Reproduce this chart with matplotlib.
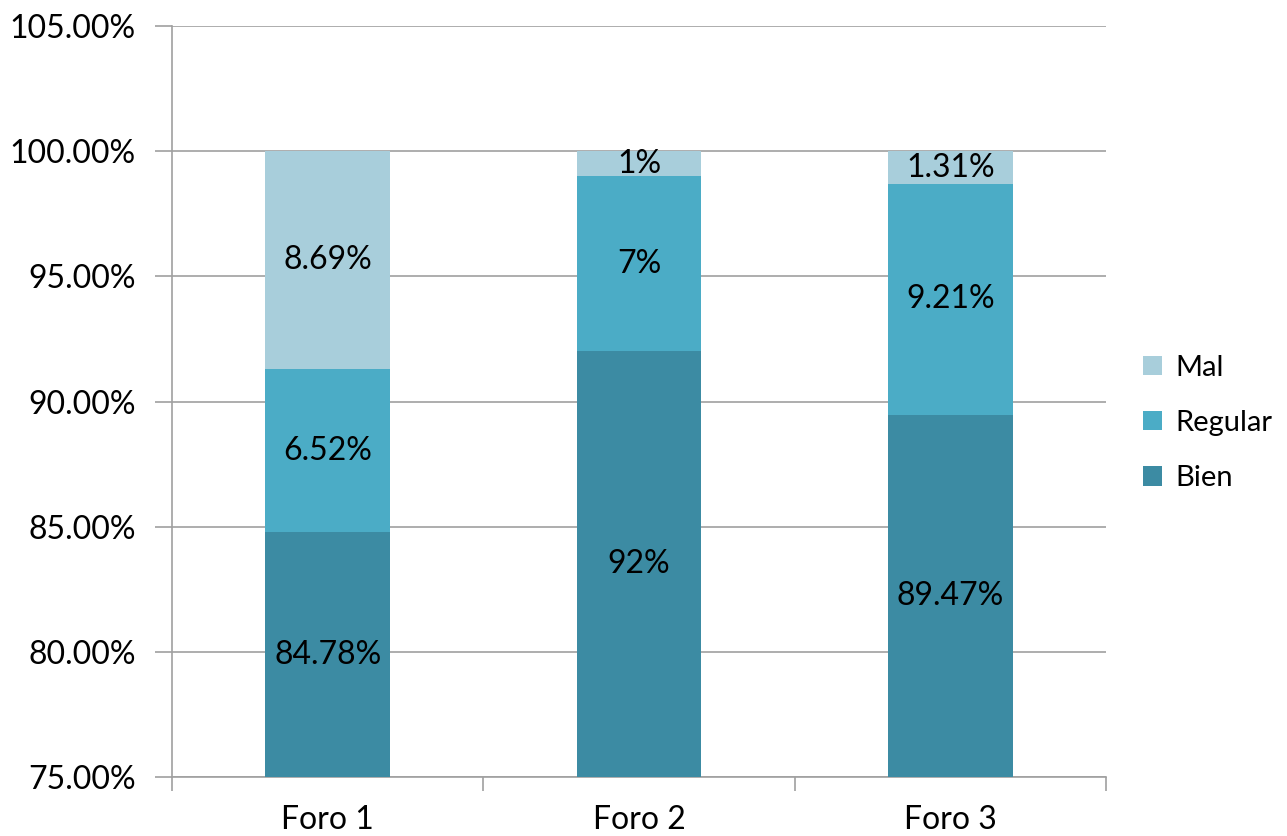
import matplotlib
matplotlib.use("Agg")
import matplotlib.pyplot as plt
import numpy as np

categories = ["Foro 1", "Foro 2", "Foro 3"]
bien = [84.78, 92.0, 89.47]
regular = [6.52, 7.0, 9.21]
mal = [8.69, 1.0, 1.31]
bien_labels = ["84.78%", "92%", "89.47%"]
regular_labels = ["6.52%", "7%", "9.21%"]
mal_labels = ["8.69%", "1%", "1.31%"]
yticks = [75, 80, 85, 90, 95, 100, 105]

plt.rcParams['font.family'] = ['Lato', 'DejaVu Sans']

fig = plt.figure(figsize=(12.87, 8.36), dpi=100)
ax = fig.add_axes([172/1287, 1-777/836, (1106-172)/1287, (777-26)/836])

c_bien = "#3C8BA3"
c_reg = "#4BACC6"
c_mal = "#A8CEDB"
grid_c = "#A0A0A0"

x = np.arange(len(categories))
w = 0.4
ymin, ymax = 75, 105

b1 = ax.bar(x, bien, w, color=c_bien, label="Bien", zorder=3)
bot2 = np.array(bien)
b2 = ax.bar(x, regular, w, bottom=bot2, color=c_reg, label="Regular", zorder=3)
bot3 = bot2 + np.array(regular)
b3 = ax.bar(x, mal, w, bottom=bot3, color=c_mal, label="Mal", zorder=3)

fs = 23
for i in range(len(categories)):
    yb = (ymin + bien[i]) / 2
    ax.text(x[i], yb, bien_labels[i], ha='center', va='center', fontsize=fs, color='black', zorder=4)
    yr = bot2[i] + regular[i] / 2
    ax.text(x[i], yr, regular_labels[i], ha='center', va='center', fontsize=fs, color='black', zorder=4)
    ym = bot3[i] + mal[i] / 2
    ax.text(x[i], ym, mal_labels[i], ha='center', va='center', fontsize=fs, color='black', zorder=4)

ax.set_xlim(-0.5, 2.5)
ax.set_ylim(ymin, ymax)
ax.set_yticks(yticks)
ax.set_yticklabels([f"{v:.2f}%" for v in yticks], fontsize=fs)
ax.set_xticks(x)
ax.set_xticklabels(categories, fontsize=fs)
ax.tick_params(axis='x', length=0, pad=20)
ax.set_xticks([-0.5, 0.5, 1.5, 2.5], minor=True)
ax.tick_params(axis='x', which='minor', length=10, color=grid_c, width=1.2)
ax.tick_params(axis='y', length=12, color=grid_c, width=1.2, pad=14)

ax.yaxis.grid(True, color=grid_c, linewidth=1.2, zorder=0)
ax.set_axisbelow(True)
for s in ['top', 'right']:
    ax.spines[s].set_visible(False)
for s in ['left', 'bottom']:
    ax.spines[s].set_color(grid_c)
    ax.spines[s].set_linewidth(1.2)

handles = [b3, b2, b1]
leg = fig.legend(handles, ["Mal", "Regular", "Bien"], loc='center left',
                 bbox_to_anchor=(1143/1287, 1-423/836), frameon=False,
                 fontsize=21, handlelength=0.65, handleheight=0.65,
                 handletextpad=0.45, labelspacing=1.0, borderaxespad=0,
                 borderpad=0)

fig.savefig("out.png", dpi=100)
